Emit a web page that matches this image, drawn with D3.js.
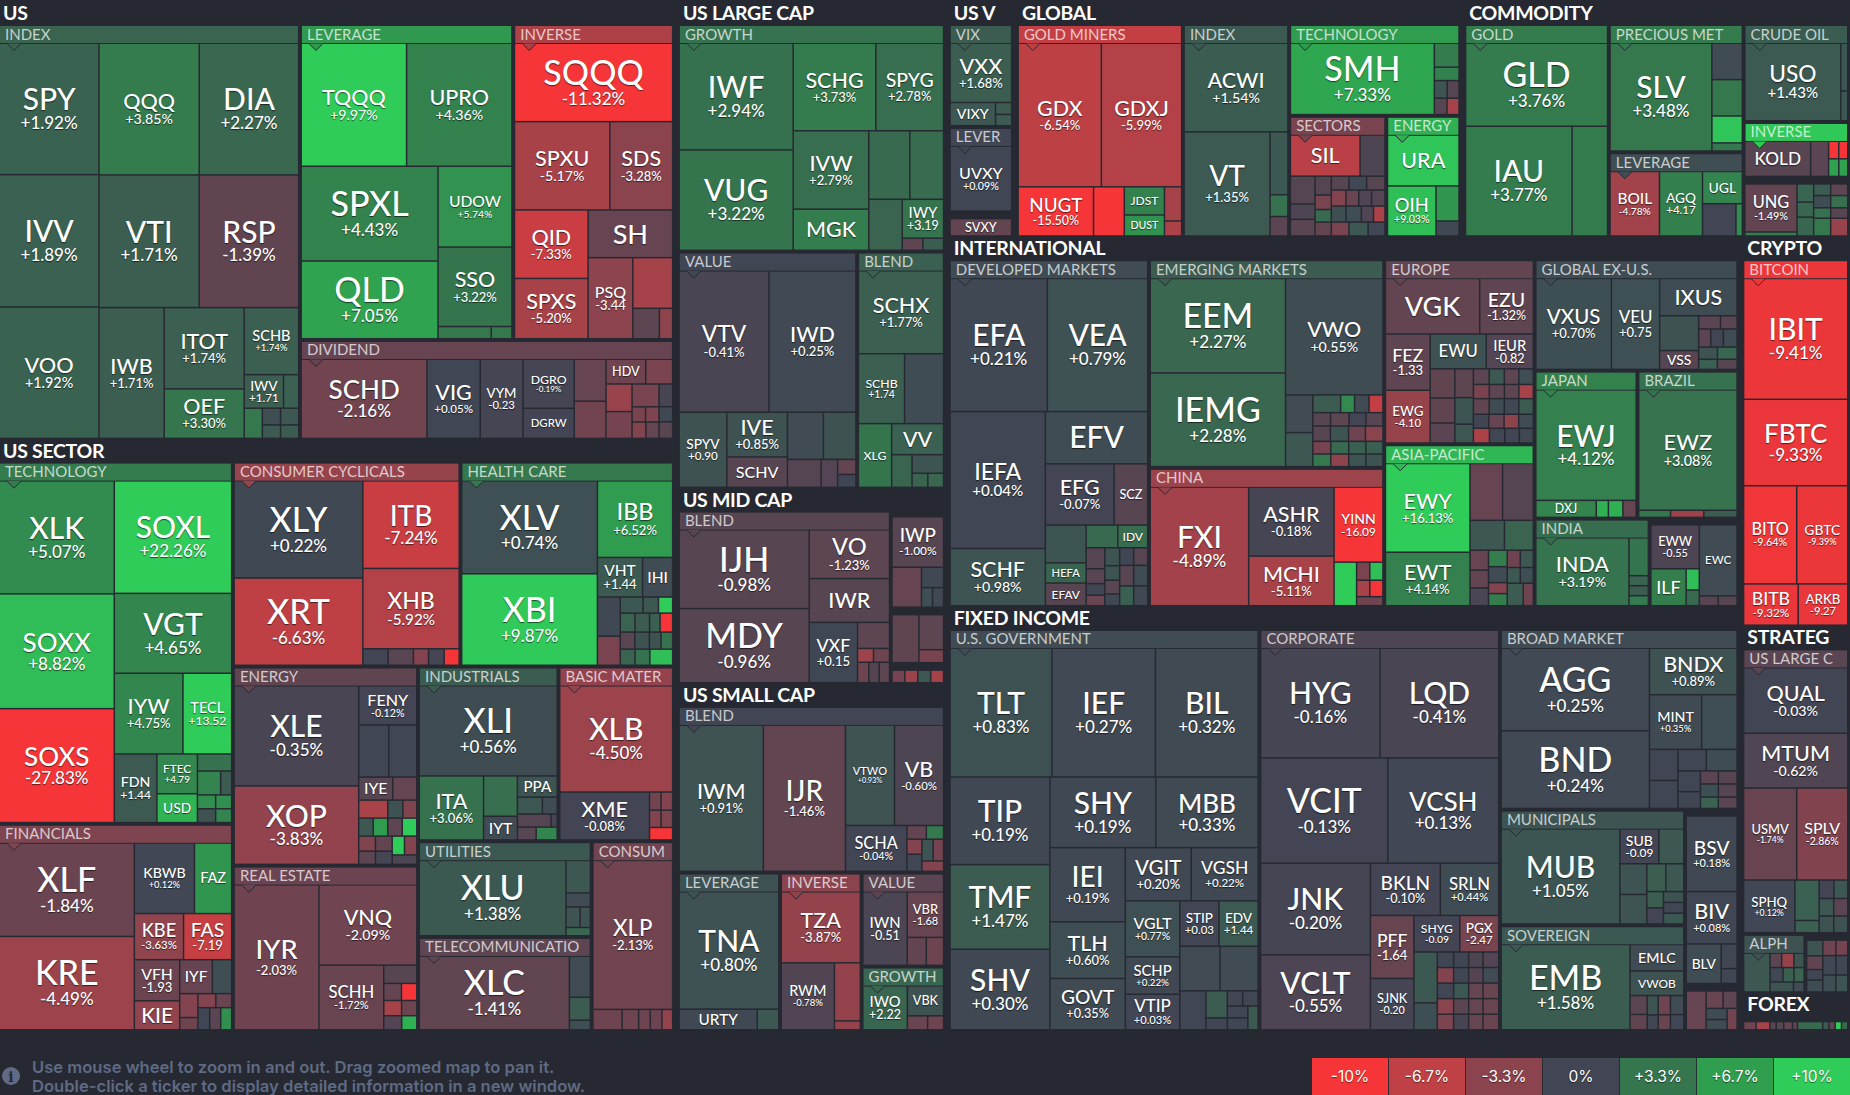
<!DOCTYPE html>
<html>
<head>
<meta charset="utf-8">
<title>ETF map</title>
<script src="https://cdn.jsdelivr.net/npm/d3@7"></script>
<style>
body { margin: 0; background: #262931; }
text { font-family: Lato, sans-serif; }
.tick { fill: #fff; text-anchor: middle; font-weight: 500; text-shadow: 0 1px 1px rgba(0,0,0,.6); }
.head { fill: rgba(255,255,255,.72); font-size: 15px; }
.block { fill: #fff; font-size: 19.5px; font-weight: 700; letter-spacing: -.3px; }
.foot { font-family: Inter, sans-serif; font-size: 16.6px; font-weight: 600; fill: #5f6a85; }
.key { font-family: Inter, sans-serif; font-size: 15.5px; fill: #fff; text-anchor: middle; text-shadow: 0 1px 1px rgba(0,0,0,.5); }
</style>
</head>
<body>
<div id="map"></div>
<script>
// leaf: [ticker, size, change, mode]   mode "s" = no % sign, "n" = no change text
// size is the tile area, in hundreds of px
// "h"/"v" = tiles side by side / stacked, "H"/"V" same with a gap between groups
// "g" = [g, title, change, header size, child], "t" = [t, block title, header size, child]

var usIndex = ["g","INDEX",2.0,62,["h",
	["v",["SPY",129,1.92],["IVV",130,1.89],["VOO",129,1.92]],
	["v",
		["h",["v",["QQQ",130,3.85],["VTI",131,1.71]],["v",["DIA",129,2.27],["RSP",130,-1.39]]],
		["h",["IWB",84,1.71],["v",["ITOT",64,1.74],["OEF",39,3.30]],
			["v",["SCHB",36,1.74],["h",["IWV",13,1.71,"s"],["",5,1.9]],
				["h",["",5.4,3.4],["v",["",3,0.6],["",2.4,1.4]],["v",["",3,1.2],["",2.4,1.6]]]]]]]];
var usLeverage = ["g","LEVERAGE",6.2,44,["v",
	["h",["TQQQ",128,9.97],["UPRO",128,4.36]],
	["h",["v",["SPXL",128,4.43],["QLD",105,7.05]],
		["v",["UDOW",59,5.74],["SSO",58,3.22],["h",["",6.4,3.5],["",2.5,3.5]]]]]];
var usInverse = ["g","INVERSE",-5.5,33,["v",
	["SQQQ",123,-11.32],
	["h",["SPXU",83.5,-5.17],["SDS",55,-3.28]],
	["h",["v",["QID",50,-7.33],["SPXS",44,-5.20]],
		["v",["SH",40,-1.7,"n"],["h",["PSQ",36,-3.44,"s"],["v",["",20,-5],["h",["",8,-1.3],["",4,-3.5]]]]]]]];
var usDividend = ["g","DIVIDEND",-1.7,78,["h",
	["SCHD",97,-2.16],["VIG",41,0.05],["VYM",33,-0.23,"s"],
	["v",["DGRO",24.5,-0.19],["DGRW",15,-0.1,"n"]],
	["v",["",13,-1.7],["",11.5,-2.2]],
	["v",["h",["HDV",9.6,-2,"n"],["",6.5,-2.5]],
		["h",["v",["",7,-4.2],["",6.8,-2.3]],
			["v",["",6,-2.4],["h",["",2,-2.5],["",2,-2.7]],["h",["",2.2,-2.9],["",2.1,-1.6]]],
			["v",["",3,-0.3],["",2,0.3],["",2.2,-1]]]]]];

var secTech = ["g","TECHNOLOGY",3.7,48,["h",
	["v",["XLK",129,5.07],["SOXX",131,8.82],["SOXS",130,-27.83]],
	["v",["SOXL",131,22.26],["VGT",93,4.65],["h",["IYW",55,4.75],["TECL",39,13.52,"s"]],
		["h",["FDN",29,1.44,"s"],["v",["FTEC",16,4.79,"s"],["USD",11.6,8.3,"n"]],
			["v",["",5.8,3],["h",["",5.5,4.5],["",2.6,1.5]],["h",["",2.5,5.5],["",2.2,5.5]],["h",["",2.5,0.9],["",2.2,4.5]]]]]]];
var secFin = ["g","FINANCIALS",-2.7,48,["h",
	["v",["XLF",125,-1.84],["KRE",125,-4.49]],
	["v",["h",["KBWB",42,0.12],["FAZ",26,5.9,"n"]],["h",["KBE",22.5,-3.63],["FAS",22,-7.19,"s"]],
		["h",["v",["VFH",18.5,-1.93,"s"],["KIE",13,-3.7,"n"]],
			["v",["h",["IYF",11,-1.7,"n"],["",6.5,0.6]],
				["h",["v",["",4.3,-3],["",2.2,-2]],
					["v",["h",["",2.5,-3],["",2.2,-1.8]],["h",["",2.6,0.1],["",2.4,-1.2],["",2.4,5.3]]]]]]]]];
var secCons = ["g","CONSUMER CYCLICALS",-4,40,["h",
	["v",["XLY",126,0.22],["XRT",113,-6.63]],
	["v",["ITB",85,-7.24],["XHB",78,-5.92],["h",["",4.2,0],["",4.2,-1.1],["",2.5,-3],["",2.6,-0.2],["",2.5,-13]]]]];
var secHealth = ["g","HEALTH CARE",3.5,38,["h",
	["v",["XLV",127,0.74],["XBI",125,9.87]],
	["v",["IBB",58,6.52],["h",["VHT",18,1.44,"s"],["IHI",12,0.5,"n"]],
		["h",["v",["",9,0.3],["",6.7,-2.5]],
			["v",["h",["",3.7,1.3],["",2.5,1.2],["",2.3,10]],
				["h",["",2.8,2],["",2.8,1.5],["",2,1.8],["",2.4,-11]],
				["h",["",2.5,-1.1],["",2.5,0.9],["",2,0.9],["",2,3]],
				["h",["",2.4,2],["",2.4,3],["",3.7,9]]]]]]];
var secEnergy = ["g","ENERGY",-1.4,38,["h",
	["v",["XLE",124,-0.35],["XOP",97,-3.83]],
	["v",["FENY",22.6,-0.12],["h",["",15.6,0.1],["",14.5,0.1]],["h",["IYE",7.8,-1,"n"],["",5.5,-1.6]],
		["h",["",5.2,-5.3],["",2.7,0.8],["",2.5,-2.8]],
		["h",["",2.6,1.2],["",2.6,6.5],["",2.6,-1.3],["",2.6,10]],
		["h",["v",["",2.5,-2.8],["",2.2,-1.3]],["v",["",2.5,-1.5],["",2.2,-0.2]],
			["v",["h",["",2.3,10],["",2.3,-3]],["",2.3,-0.6]]]]]];
var secEstate = ["g","REAL ESTATE",-1.9,38,["h",
	["IYR",122,-2.03],
	["v",["VNQ",78,-2.09],["h",["SCHH",41.6,-1.72],
		["v",["",6,-1],["h",["",3,-1.6],["",2.6,-11]],["h",["",2.7,-5],["",2.3,-2]],["h",["",2.5,-0.8],["",2.1,8]]]]]]];
var secInd = ["g","INDUSTRIALS",1.6,29,["v",
	["XLI",124,0.56],
	["h",["ITA",41,3.06],["v",["",13.6,2.8],["IYT",8,0.4,"n"]],
		["v",["PPA",8.4,1,"n"],["h",["",4.2,1.2],["",2.5,0.4]],["h",["",4.4,-0.9],["",0.8,-0.2]],["h",["",2.4,-1],["",2.7,4.5]]]]]];
var secBasic = ["g","BASIC MATER",-3.8,24,["v",
	["XLB",120,-4.50],
	["h",["XME",43,-0.08],["v",["h",["",2.1,-2.2],["",2.1,-3]],["h",["",2,-3],["",2,-2.7]],["",2.9,-12]]]]];
var secUtil = ["g","UTILITIES",1.3,35,["h",
	["XLU",110,1.38],["v",["",7.9,1.2],["",3.4,0.4],["h",["",2.9,1],["",2.1,1]],["",2,2.3]]]];
var secTelecom = ["g","TELECOMMUNICATIO",-1.3,35,["h",
	["XLC",110,-1.41],["v",["",8.6,0.5],["",4.8,1.5],["",2,0.7]]]];
var secConsum = ["g","CONSUM",-2.1,17,["v",
	["XLP",120,-2.13],["h",["",6,-2],["",3.4,-2],["",2.4,-2],["",2.4,-1.9],["",2.2,-3.9]]]];

var lcGrowth = ["g","GROWTH",3,48,["h",
	["v",["IWF",121,2.94],["VUG",114,3.22]],
	["v",["h",["SCHG",72,3.73],["SPYG",59,2.78]],
		["h",["v",["IVW",59,2.79],["MGK",31,3.9,"n"]],
			["v",["h",["",28,2.5],["",23,2.6]],
				["h",["",17,2],["v",["IWY",16,3.19,"s"],["h",["",2.5,-1.3],["",2.5,1.6]]]]]]]]];
var lcValue = ["g","VALUE",0.1,41,["v",
	["h",["VTV",124,-0.41],["IWD",120,0.25]],
	["h",["SPYV",35,0.90,"s"],["v",["IVE",26.5,0.85],["SCHV",18,-1,"n"]],
		["v",["h",["",16.6,0.4],["",15,0.9]],
			["h",["",9.2,-0.9],["",4.5,-0.8],["v",["",2.7,-1.5],["",2.3,0.05]]]]]]];
var lcBlend = ["g","BLEND",1.8,20,["v",
	["SCHX",70,1.77],["h",["SCHB",32,1.74,"s"],["",27,0.5]],
	["h",["XLG",21,3.2,"n"],["v",["VV",16,1.9,"n"],["h",["",6.6,2.1],["v",["",5.8,1],["h",["",2.2,2],["",2.2,2.3]]]]]]]];

var mcBlend = ["g","BLEND",-1,44,["h",
	["v",["IJH",102,-0.98],["MDY",96,-0.96]],
	["v",["VO",39,-1.23],["IWR",35,-1,"n"],
		["h",["VXF",29,0.15,"s"],["v",["",8.3,-1.3],["h",["",2.2,-4.5],["",2.2,-2]],["h",["",2.3,-2],["",2.1,-0.9],["",2.1,-1.3]]]]]]];
var mcSideA = ["g","",null,4.7,["v",
	["IWP",26.5,-1.00],["h",["",12,-1.7],["v",["",4.6,0.2],["h",["",2.2,0.7],["",2.2,0.2]]]]]];
var mcSideB = ["g","",null,4.7,["h",["",13,-1.4],["v",["",8.7,-1.3],["",3.2,-2.5]]]];
var mcSideC = ["g","",null,4.7,["h",["",1.5,-2.3],["",1.5,-4.5],["",1.5,1.2],["",1.5,-5]]];

var scBlend = ["g","BLEND",0,56,["h",
	["IWM",120,0.91],["IJR",117,-1.46],
	["v",["h",["VTWO",48,0.93],["VB",48,-0.60]],
		["h",["SCHA",27.5,-0.04],
			["v",["h",["",2.6,-1.5],["",2.3,3.6]],
				["h",["v",["",2.2,-3],["",2.5,0.1]],["v",["h",["",2.4,1],["",2.2,-2.3]],["",2.2,-3]]]]]]]];
var scLeverage = ["g","LEVERAGE",0.8,21,["v",["TNA",116,0.80],["h",["URTY",16,0.3,"n"],["",4.4,1.2]]]];
var scInverse = ["g","INVERSE",-3.3,17,["v",["TZA",56,-3.87],["h",["RWM",35.5,-0.78],["v",["",15,-3.9],["",2.3,-3.9]]]]];
var scValue = ["g","VALUE",-1.2,17,["h",["IWN",32.5,-0.51,"s"],["v",["VBR",16.5,-1.68,"s"],["h",["",5.3,-1.5],["",4.8,-2]]]]];
var scGrowth = ["g","GROWTH",2.2,17,["h",["IWO",19.4,2.22,"s"],["v",["VBK",10.8,0.9,"n"],["h",["",2.8,-1.8],["",2.2,-2]]]]];

var vVix = ["g","VIX",1.5,13.4,["v",["VXX",38,1.68],["h",["VIXY",11,1.2,"n"],["v",["",2,1.5],["",1.9,1.5]]]]];
var vLever = ["g","LEVER",0.1,13.4,["UVXY",41.6,0.09]];
var vSide = ["g","",null,6,["SVXY",10,-1.5,"n"]];

var glMiners = ["g","GOLD MINERS",-7,34,["v",
	["h",["GDX",116,-6.54],["GDXJ",112,-5.99]],
	["h",["NUGT",36,-15.50],["",14.7,-15],["v",["JDST",11,4.3,"n"],["DUST",8.2,5.7,"n"]],["v",["",5.7,-5],["",2.5,-5.5]]]]];
var glIndex = ["g","INDEX",1.4,22,["v",["ACWI",90,1.54],["h",["VT",87.5,1.35],["v",["",11,1.3],["",3.8,3],["",3.4,-1.2]]]]];
var glTech = ["g","TECHNOLOGY",6.5,35,["h",
	["SMH",99,7.33],["v",["",5.7,3.8],["",3.2,4.2],["h",["",2.2,1],["",2,-0.9]],["h",["",2,-1],["",1.9,-5]]]]];
var glSectors = ["g","SECTORS",-2.5,20,["v",
	["h",["SIL",28,-6.3,"n"],["",10,-0.6]],
	["h",["v",["",6.7,-0.9],["",3.7,-0.6],["",4,-1.1]],
		["v",["",3,-0.9],["",2.3,-2.4],["",2,2.5],["",2.2,-1.5]],
		["v",["h",["",2.4,-1],["",2.4,0.2],["",2.5,-1]],
			["h",["",2.3,-3],["",2,-1.8],["",2,-0.7],["",2.1,-0.8]],
			["h",["",2.3,0.6],["",2.4,0.6],["",1.9,-0.7],["",1.8,-5.5]],
			["h",["",2.4,-2.5],["",2.6,1.2],["",2.3,0.1]]]]]];
var glEnergy = ["g","ENERGY",8,15,["v",["URA",36,9.5,"n"],["h",["OIH",24,9.03],["v",["",8,6],["",3.4,0.3]]]]];

var cmGold = ["g","GOLD",3.7,29,["v",["GLD",115,3.76],["h",["IAU",114,3.77],["",38,3.7]]]];
var cmPrecious = ["g","PRECIOUS MET",3.8,27,["h",["SLV",107,3.48],["v",["",10.8,0.4],["",10.8,3.5],["",8,9.5],["",2.4,3.4]]]];
var cmLeverage = ["g","LEVERAGE",0.6,27,["h",["BOIL",31,-4.78],["AGQ",27,4.17,"s"],["v",["UGL",12.5,4.5,"n"],["h",["",10.5,0],["",2,5]]]]];
var cmCrude = ["g","CRUDE OIL",1.6,22,["h",["USO",72,1.43],["v",["",3.2,1.3],["",2,1.3]]]];
var cmInverse = ["g","INVERSE",9.7,22,["h",["KOLD",22,-1,"n"],["",6,-1.2],["v",["h",["",1.7,-11],["",1.5,-11]],["h",["",1.7,7],["",1.5,7]]]]];
var cmSide = ["g","",null,9,["h",
	["v",["UNG",24,-1.49],["",2,4]],
	["h",["v",["",2.9,2.2],["",2.4,2.2],["",3,2.2]],
		["v",["",1.9,1.6],["",2,0.5],["",1.7,3],["",2.9,3.5]],
		["v",["",1.9,-1.3],["",2,2.8],["",1.7,-1],["",2.9,-4]]]]];

var inDeveloped = ["g","DEVELOPED MARKETS",0.4,41,["v",
	["h",["EFA",126,0.21],["VEA",130,0.79]],
	["h",["v",["IEFA",127,0.04],["SCHF",53,0.98]],
		["v",["EFV",52,0.5,"n"],["h",["EFG",41,-0.07],["SCZ",20,-1,"n"]],
			["h",["v",["",15,1.1],["HEFA",8,2,"n"],["EFAV",9,-1,"n"]],
				["v",["h",["",7,2.5],["IDV",6.6,2.6,"n"]],
					["h",["v",["",3.8,-1],["",2.7,-1.1],["",2.1,0.1],["",1.9,-1.8]],
						["v",["",2.6,1],["",2.1,1],["",2,-1.1],["",1.7,0.2]],
						["v",["",2.4,0.1],["",2.8,-1],["",2.7,1.8]],
						["v",["",2.4,-1],["",2.8,0.5],["",2.7,0.2]]]]]]]]];
var inEmerging = ["g","EMERGING MARKETS",1.5,48,["h",
	["v",["EEM",124,2.27],["IEMG",123,2.28]],
	["v",["VWO",110,0.55],
		["h",["v",["",10,0.4],["",9,1.2]],
			["v",["h",["",4.8,1.5],["",2.4,5],["",2.5,0.4],["",2.4,-7]],
				["h",["",2.3,-1],["",2.4,-1.3],["",2.2,-0.1],["",2.2,-1]],
				["h",["",2.6,-1],["",2.7,1],["",2.5,-2],["",2.6,-3.2]],
				["h",["",2.2,-2.3],["",2.2,2.5],["",2.1,1.8],["",2.1,1.8]],
				["h",["",2.2,3.5],["",2.2,-3.5],["",2.1,1],["",2.1,0.8]]]]]]];
var inChina = ["g","CHINA",-4.5,48,["h",
	["FXI",113,-4.89],["v",["ASHR",57,-0.18],["MCHI",41,-5.11]],
	["v",["YINN",35.5,-16.09,"s"],["h",["",9.5,10],
		["v",["h",["",2.3,-2.5],["",2.3,9]],["h",["",2.1,-5],["",2.1,-12]],["",2.3,-2]]]]]];
var inEurope = ["g","EUROPE",-1.5,31,["v",
	["h",["VGK",51,-1.5,"n"],["EZU",29,-1.32]],
	["h",["v",["FEZ",24.5,-1.33,"s"],["EWG",23,-4.10,"s"]],
		["v",["h",["EWU",19,0.8,"n"],["IEUR",16,-0.82,"s"]],
			["h",["v",["",7,-1.4],["",6,-1.4],["",4.8,-1.2]],
				["v",["",5.2,-1.3],["",4.8,1.1],["",3.4,1.2]],
				["v",["h",["",2.4,-1.2],["",2.3,1.2],["",2.2,-1.3],["",2.2,0.6]],
					["h",["",2.2,-2.5],["",2.1,-1.3],["",2,-1.3],["",2,-5]],
					["h",["",2.4,-1.4],["",2.3,0.5],["",2.2,0.3],["",2.2,1.5]],
					["h",["",2.1,0],["",2.1,-1.7],["",2,-3.5],["",2,0.4]],
					["h",["",2.3,-5.5],["",2.2,0.1],["",2.1,0],["",2,0.3]]]]]]]];
var inAsia = ["g","ASIA-PACIFIC",8.5,31,["h",
	["v",["EWY",73,16.13],["EWT",44,4.14]],
	["v",["h",["",18,-1.7],["",17,-0.9]],["h",["",10,1.2],["",8.4,2]],
		["h",["v",["",3.6,-1.7],["",3.2,-1.5],["",3.2,-0.5]],
			["v",["",3,4],["",2.9,0.4],["",2,-3],["",2.2,4]],
			["v",["h",["",2.2,-2],["",2.2,1.2]],["h",["",2,1.2],["",2,0.7]],["h",["",3.5,1.5],["",2.2,-2]]]]]]];
var inGlobalEx = ["g","GLOBAL EX-U.S.",0.5,35,["h",
	["VXUS",69,0.70],["VEU",44,0.75,"s"],
	["v",["IXUS",29,0.5,"n"],
		["h",["v",["",13.6,0.9],["VSS",7.4,-1,"n"]],
			["v",["h",["",2.9,-1.2],["",2.2,-1.2]],["h",["",2.2,-1.2],["",2.3,0],["",2.5,0.5]],
				["h",["",2.3,1],["",2.4,2.2]],["h",["",1.9,1.8],["",2,-1]]]]]]];
var inJapan = ["g","JAPAN",4.3,22,["v",["EWJ",108,4.12],["h",["DXJ",10,4.5,"n"],["",2,8],["",2.4,8],["",2.2,-1.7]]]];
var inBrazil = ["g","BRAZIL",3,22,["v",["EWZ",115,3.08],["h",["",2.2,3.5],["",2.3,-4.5],["",2.3,1.5]]]];
var inIndia = ["g","INDIA",2.7,23,["h",["INDA",62,3.19],["v",["",7.2,3.2],["",1.9,2],["",1.9,1.5],["",1.9,3.7]]]];
var inSide = ["g","",null,8,["h",
	["v",["EWW",20.6,-0.55,"s"],["h",["ILF",12.6,4,"n"],["v",["",2.7,9],["",2,2.5]]]],
	["v",["EWC",26,0.4,"n"],["h",["",1.8,-1],["",1.8,-1]]]]];

var fiGovTail = ["h",["",10,0.1],["v",["",5.7,1.5],["",2.5,0.1]],
	["v",["h",["",2.3,0.1],["",2.3,0.1]],["h",["v",["",2.4,0.1],["",2.4,0.1]],["",2.4,1.4]]]];
var fiGov = ["g","U.S. GOVERNMENT",0.4,64,["v",
	["h",["TLT",129,0.83],["IEF",131,0.27],["BIL",130,0.32]],
	["h",["v",["TIP",86,0.19],["TMF",83,1.47],["SHV",79,0.30]],
		["v",["h",["SHY",73.5,0.19],["MBB",71,0.33]],
			["h",["v",["IEI",55,0.19],["TLH",42,0.60],["GOVT",38,0.35]],
				["v",["h",["VGIT",34.5,0.20],["VGSH",35,0.22]],
					["h",["v",["VGLT",30,0.77],["SCHP",20,0.22],["VTIP",19,0.03]],
						["v",["h",["STIP",17.5,0.03,"s"],["EDV",17.5,1.44,"s"]],
							["h",["",17.6,0.4],["",16.7,0.4]],
							fiGovTail]]]]]]]];
var fiCorpGrid = ["v",
	["h",["",2.5,0.1],["",2.3,0.1],["",2.2,-0.6],["",2.4,-0.8]],
	["h",["",2.5,-3],["",2.3,0.1],["",2.2,-0.9],["",2.4,0.4]],
	["h",["",2.5,0.1],["",2.3,1.3],["",2.2,-1.6],["",2.4,-1.8]],
	["h",["",2.5,-3.2],["",2.3,-1.2],["",2.2,-1.6],["",2.4,-1.8]],
	["h",["",2.5,-2.6],["",2.3,-0.2],["",2.2,-1.6],["",2.4,-1.8]]];
var fiCorp = ["g","CORPORATE",-0.6,50,["v",
	["h",["HYG",129,-0.16],["LQD",128,-0.41]],
	["h",["VCIT",132,-0.13],["VCSH",115,0.13]],
	["h",["v",["JNK",99,-0.20],["VCLT",81,-0.55]],
		["v",["h",["BKLN",36,-0.10],["SRLN",30,0.44]],
			["h",["v",["PFF",27,-1.64,"s"],["SJNK",22,-0.20,"s"]],
				["v",["h",["SHYG",16.5,-0.09,"s"],["PGX",14,-2.47,"s"]],
					["h",["v",["",11.7,1.3],["",6.2,0.7]],fiCorpGrid]]]]]]];
var fiBroadTail = ["h",["v",["",8.7,0.1],["",7.8,0.1]],
	["v",["h",["",6,0.1],["",6.5,0.5]],
		["h",["v",["",4.6,0.1],["",3.7,0.1]],
			["v",["h",["",2.3,-1.2],["",2.4,-1]],["h",["",2.3,0.7],["",2.4,-1]],["h",["",2,2],["",2.1,-1.1]]]]]];
var fiBroad = ["g","BROAD MARKET",0.4,50,["h",
	["v",["AGG",120,0.25],["BND",113,0.24]],
	["v",["BNDX",40,0.89],["h",["MINT",28,0.35],["",19,0.6]],fiBroadTail]]];
var fiMuniTail = ["h",["v",["",8.3,1],["",8,1]],
	["v",["h",["",5.3,1.7],["",5,1.2]],
		["h",["v",["",2.7,1.7],["",2.7,-0.1]],["v",["",2.2,0.8],["",2.2,0.1],["",2.2,1.3]]]]];
var fiMuni = ["g","MUNICIPALS",1,35,["h",
	["MUB",113,1.05],["v",["h",["SUB",13.6,-0.09,"s"],["",8.7,1.2]],fiMuniTail]]];
var fiSov = ["g","SOVEREIGN",1.3,38,["h",
	["EMB",108,1.58],
	["v",["EMLC",14,0.5,"n"],["VWOB",13,0.9,"n"],
		["h",["v",["",3.2,-1.2],["",2.6,-1.4]],["v",["",2.1,1],["",1.6,0.1]],["v",["",2.3,-2],["",1.8,-1.8]],["v",["",2.5,0.4],["",2,0.1]]]]]];
var fiSideA = ["g","",null,4.7,["v",["BSV",39,0.18],["BIV",27,0.08],["h",["BLV",14,0.5,"n"],["v",["",4,0.1],["",2.4,0.1]]]]];
var fiSideB = ["g","",null,4.7,["h",["",7.6,-1.7],["v",["h",["",2.9,-1.8],["",2.4,-1.3]],["h",["v",["",2.3,0.5],["",2.1,0.4]],["",2.1,-2.2]]]]];

var cyBitcoin = ["g","BITCOIN",-9.4,22,["v",
	["IBIT",123,-9.41],["FBTC",88,-9.33],["h",["BITO",51,-9.64],["GBTC",49,-9.39]],["h",["BITB",22,-9.32],["ARKB",20,-9.27,"s"]]]];
var stLarge = ["g","US LARGE C",-1.1,22,["v",
	["QUAL",67,-0.03],["MTUM",56,-0.62],["h",["USMV",48,-1.74],["SPLV",46,-2.86]],
	["h",["SPHQ",26.5,0.12],["v",["",9.6,1.9],["",2.9,1.9]],
		["v",["h",["",2.7,-0.1],["",2.5,1.2]],["h",["",2.5,1.2],["",2.4,-1.2]],["h",["",2.4,0.9],["",2.3,0.9]]]]]];
var stAlpha = ["g","ALPH",0.9,12,["h",
	["",10.5,1.2],
	["v",["h",["",1.7,-1.2],["",1.8,-4],["",1.5,1]],["h",["",1.9,0.3],["",1.6,1.8],["",1.5,2]],["h",["",2.4,1],["",1.1,0.4]]]]];
var stSide = ["g","",null,3.8,["h",
	["v",["",2.5,1],["",2.2,-1.4],["",1.7,0.1],["",1.9,0.5]],
	["v",["",2,-2],["",2.5,0.2],["",2.2,0.6]],
	["v",["",1.8,-2.3],["",2.3,0.1],["",2,1]]]];
var fxCells = ["g","",null,7,["h",
	["",0.6,-2],["",0.66,-5],["",0.3,-1],["",0.36,-1],["",0.42,-1.5],["",0.24,-1.3],
	["",1.2,2.5],["",0.3,1.2],["",0.3,-1.5],["",0.3,10],["",0.3,2.5]]];

var legendStops = [-10, -6.7, -3.3, 0, 3.3, 6.7, 10];
var legendColors = ["#f63538", "#bf4045", "#8b444e", "#414554", "#35764e", "#2f9e4f", "#30cc5a"];
var infoLines = ["Use mouse wheel to zoom in and out. Drag zoomed map to pan it.", "Double-click a ticker to display detailed information in a new window."];

var layout = ["X",
	["Y",
		["t","US",175,["H",usIndex,["V",["H",usLeverage,usInverse],usDividend]]],
		["t","US SECTOR",168,["H",["V",secTech,secFin],
			["V",["H",secCons,secHealth],
				["H",["V",secEnergy,secEstate],
					["V",["H",secInd,secBasic],["H",["V",secUtil,secTelecom],secConsum]]]]]]],
	["Y",
		["t","US LARGE CAP",84,["V",lcGrowth,["H",lcValue,lcBlend]]],
		["t","US MID CAP",63,["H",mcBlend,["V",mcSideA,mcSideB,mcSideC]]],
		["t","US SMALL CAP",79,["V",scBlend,["H",scLeverage,scInverse,["V",scValue,scGrowth]]]]],
	["Y",
		["X",
			["t","US V",20,["V",vVix,vLever,vSide]],
			["t","GLOBAL",125,["H",glMiners,glIndex,["V",glTech,["H",glSectors,glEnergy]]]],
			["t","COMMODITY",110,["H",cmGold,["V",cmPrecious,cmLeverage],["V",cmCrude,cmInverse,cmSide]]]],
		["X",
			["Y",
				["t","INTERNATIONAL",237,["H",inDeveloped,["V",inEmerging,inChina],["V",inEurope,inAsia],
					["V",inGlobalEx,["H",inJapan,inBrazil],["H",inIndia,inSide]]]],
				["t","FIXED INCOME",205,["H",fiGov,fiCorp,["V",fiBroad,["H",["V",fiMuni,fiSov],["V",fiSideA,fiSideB]]]]]],
			["Y",
				["t","CRYPTO",48,cyBitcoin],
				["t","STRATEG",45,["V",stLarge,["H",stAlpha,stSide]]],
				["t","FOREX",29,fxCells]]]]];

var width = 1850, height = 1095;
var mapW = 1847, mapH = 1029;
var headH = 17, titleH = 26, hiddenH = 5;
var gaps = {h:1.5, v:1.5, H:4, V:4, X:8, Y:0};

var color = d3.scaleLinear().domain(legendStops).range(legendColors).clamp(true);
var pct = d3.formatLocale({decimal:".", thousands:",", grouping:[3], currency:["$",""], minus:"-"}).format("+.2f");

function build(a){
	if(a[0] === "g") return {title:a[1], change:a[2], size:a[3], pad:a[1] ? headH+1 : hiddenH, children:[build(a[4])]};
	if(a[0] === "t") return {heading:a[1], size:a[2], pad:titleH, children:[build(a[3])]};
	if(a[0] in gaps) return {dir:a[0].toLowerCase(), gap:gaps[a[0]], children:a.slice(1).map(build)};
	return {ticker:a[0], size:a[1], change:a[2], mode:a[3]};
}

// like dice/slice, but group nodes hold their own header area in value
function tile(node, x0, y0, x1, y1){
	var kids = node.children, sum = d3.sum(kids, function(c){ return c.value; });
	var across = node.data.dir === "h" || node.data.dir === "x";
	var k = (across ? x1-x0 : y1-y0) / sum, pos = across ? x0 : y0;
	kids.forEach(function(c){
		var next = pos + c.value*k;
		c.x0 = across ? pos : x0; c.x1 = across ? next : x1;
		c.y0 = across ? y0 : pos; c.y1 = across ? y1 : next;
		pos = next;
	});
}

var root = d3.hierarchy(build(layout)).sum(function(d){ return d.size || 0; });
d3.treemap().size([mapW, mapH]).tile(tile)
	.paddingInner(function(n){ return n.data.gap || 0; })
	.paddingTop(function(n){ return n.data.pad || 0; })(root);

var svg = d3.select("#map").append("svg").attr("width", width).attr("height", height).style("display", "block");

var leaves = root.leaves();
svg.append("g").selectAll("rect").data(leaves).join("rect")
	.attr("x", function(d){ return d.x0; })
	.attr("y", function(d){ return d.y0; })
	.attr("width", function(d){ return d.x1-d.x0; })
	.attr("height", function(d){ return d.y1-d.y0; })
	.attr("fill", function(d){ return color(d.data.change); });

// group headers with the little pointer below them
var groups = root.descendants().filter(function(d){ return d.data.title; });
svg.append("g").selectAll("rect").data(groups).join("rect")
	.attr("x", function(d){ return d.x0; })
	.attr("y", function(d){ return d.y0; })
	.attr("width", function(d){ return d.x1-d.x0; })
	.attr("height", headH)
	.attr("fill", function(d){ return color(d.data.change); });
svg.append("g").selectAll("path").data(groups).join("path")
	.attr("d", function(d){
		var x = d.x0+14, y = d.y0+headH+0.5;
		return "M"+(x-7)+","+y+"L"+x+","+(y+7)+"L"+(x+7)+","+y;
	})
	.attr("fill", function(d){ return color(d.data.change); })
	.attr("stroke", "#262931").attr("stroke-width", 1);
svg.append("g").selectAll("text").data(groups).join("text")
	.attr("class", "head")
	.attr("x", function(d){ return d.x0+5; })
	.attr("y", function(d){ return d.y0+13.5; })
	.text(function(d){ return d.data.title; });

var blocks = root.descendants().filter(function(d){ return d.data.heading; });
svg.append("g").selectAll("text").data(blocks).join("text")
	.attr("class", "block")
	.attr("x", function(d){ return d.x0+3; })
	.attr("y", function(d){ return d.y0+20; })
	.text(function(d){ return d.data.heading; });

// ticker text steps down in sizes: big if it fits the tile, else the next one
var ctx = document.createElement("canvas").getContext("2d");
function em(str){
	ctx.font = "100px Lato";
	return ctx.measureText(str).width/100;
}
function changeText(d){
	if(d.mode === "n") return "";
	return d.mode === "s" ? pct(d.change) : pct(d.change)+"%";
}
function tickerSize(w, m, single){
	var shortName = w >= 70 ? Math.min(0.5*w/m, 28) : 0;
	if(w >= 125 && m*34 <= 0.65*w) return 34;
	if(w >= 95 && m*30 <= 0.65*w) return 30;
	if(single && w >= 80 && m*27 <= 0.65*w) return 27;
	if(w >= 100 && m*26 <= 0.66*w) return 26;
	if(w >= 75 && m*21.5 <= 0.72*w) return Math.max(21.5, shortName);
	return Math.max(Math.min(21.5, 0.72*w/m), shortName);
}
var labeled = leaves.filter(function(d){ return d.data.ticker; });
labeled.forEach(function(d){
	var w = d.x1-d.x0, h = d.y1-d.y0, t = changeText(d.data);
	var tall = t ? 0.5 : (h < 30 ? 0.8 : 0.62);
	d.fs = Math.min(tickerSize(w, em(d.data.ticker), !t), tall*h);
	d.cfs = 0; d.base = (d.y0+d.y1)/2+0.36*d.fs;
	if(t){
		d.cfs = d.data.mode === "s"
			? Math.min(13, 0.8*w/em(t), 0.85*d.fs)
			: Math.min(w >= 90 ? 17 : 13, 0.75*w/em(t), 0.66*d.fs);
		var total = 0.72*d.fs+0.22*d.fs+0.72*d.cfs;
		d.base = (d.y0+d.y1)/2-total/2+0.72*d.fs;
	}
});
var labels = svg.append("g").selectAll("text").data(labeled).join("text").attr("class", "tick");
labels.append("tspan")
	.attr("x", function(d){ return (d.x0+d.x1)/2; })
	.attr("y", function(d){ return d.base; })
	.style("font-size", function(d){ return d.fs+"px"; })
	.text(function(d){ return d.data.ticker; });
labels.filter(function(d){ return d.cfs; }).append("tspan")
	.attr("x", function(d){ return (d.x0+d.x1)/2; })
	.attr("y", function(d){ return d.base+0.22*d.fs+0.72*d.cfs; })
	.style("font-size", function(d){ return d.cfs+"px"; })
	.text(function(d){ return changeText(d.data); });

// legend
var keyX = d3.scaleBand().domain(legendStops).range([1312, 1850]).paddingInner(0.012);
var keyFormat = function(v){ return v === 0 ? "0%" : (v > 0 ? "+" : "")+v+"%"; };
var key = svg.append("g").selectAll("g").data(legendStops).join("g");
key.append("rect")
	.attr("x", function(d){ return keyX(d); })
	.attr("y", 1058)
	.attr("width", keyX.bandwidth())
	.attr("height", 37)
	.attr("fill", function(d){ return color(d); });
key.append("text").attr("class", "key")
	.attr("x", function(d){ return keyX(d)+keyX.bandwidth()/2; })
	.attr("y", 1082)
	.text(keyFormat);

// footer note
svg.append("g").selectAll("text").data(infoLines).join("text")
	.attr("class", "foot")
	.attr("x", 32)
	.attr("y", function(d, i){ return 1073+i*19; })
	.text(function(d){ return d; });
svg.append("circle").attr("cx", 11).attr("cy", 1076).attr("r", 9).attr("fill", "#5f6a85");
svg.append("text").attr("x", 11).attr("y", 1081.5).attr("text-anchor", "middle")
	.style("font-family", "'DejaVu Serif', serif").style("font-size", "14px").style("font-weight", "700")
	.attr("fill", "#262931").text("i");
</script>
</body>
</html>
